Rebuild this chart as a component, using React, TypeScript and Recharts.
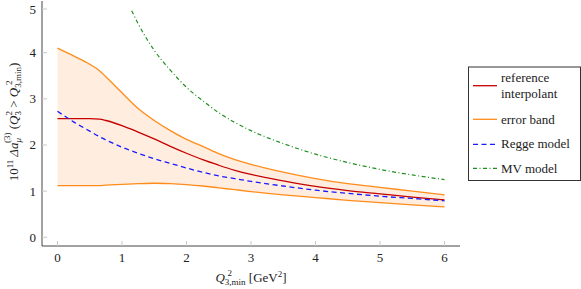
import { ComposedChart, Line, Area, XAxis, YAxis } from 'recharts'

// sample points of Q^2_3,min in GeV^2
const Q_GRID = [0, 0.25, 0.5, 0.65, 0.75, 1, 1.25, 1.5, 1.75, 2, 2.25, 2.5, 2.75, 3, 3.5, 4, 4.5, 5, 5.5, 6]
const BAND_HI = [4.1, 3.93, 3.75, 3.61, 3.48, 3.13, 2.79, 2.53, 2.31, 2.12, 1.97, 1.81, 1.68, 1.58, 1.41, 1.27, 1.16, 1.08, 1.0, 0.92]
const BAND_LO = [1.12, 1.12, 1.12, 1.12, 1.13, 1.145, 1.16, 1.17, 1.16, 1.14, 1.11, 1.07, 1.03, 0.99, 0.92, 0.86, 0.8, 0.75, 0.7, 0.66]
const REF = [2.57, 2.57, 2.57, 2.56, 2.53, 2.42, 2.28, 2.13, 1.97, 1.82, 1.68, 1.56, 1.45, 1.36, 1.22, 1.1, 1.01, 0.94, 0.87, 0.81]
const REGGE = [2.73, 2.5, 2.3, 2.18, 2.11, 1.95, 1.82, 1.7, 1.6, 1.5, 1.41, 1.33, 1.27, 1.21, 1.11, 1.02, 0.95, 0.89, 0.84, 0.79]

const MV_Q = [1.15, 1.25, 1.5, 1.75, 2, 2.25, 2.5, 3, 3.5, 4, 4.5, 5, 5.5, 6]
const MV = [4.91, 4.63, 4.05, 3.62, 3.25, 2.96, 2.7, 2.31, 2.03, 1.8, 1.62, 1.47, 1.35, 1.25]

const X_TICKS = [0, 1, 2, 3, 4, 5, 6]
const Y_TICKS = [0, 1, 2, 3, 4, 5]

const RED = '#c40000'
const ORANGE = '#ff8c1a'
const BAND_FILL = '#ffeedf'
const BLUE = '#1a1aff'
const GREEN = '#1f8f1f'
const FRAME = '#444'
const TICK = '#c8c8c8'
const FONT = 'Liberation Serif'

const bandData = Q_GRID.map((q, i) => ({ q, band: [BAND_LO[i], BAND_HI[i]], hi: BAND_HI[i], lo: BAND_LO[i] }))
const refData = Q_GRID.map((q, i) => ({ q, v: REF[i] }))
const reggeData = Q_GRID.map((q, i) => ({ q, v: REGGE[i] }))
const mvData = MV_Q.map((q, i) => ({ q, v: MV[i] }))

function BottomTick({ x, y, payload }: any) {
  return (
    <g>
      <line x1={x} x2={x} y1={y} y2={y - 5} stroke={TICK} />
      <text x={x} y={y + 16} textAnchor="middle" fontFamily={FONT} fontSize={13} fill="#222">
        {payload.value}
      </text>
    </g>
  )
}

function TopTick({ x, y }: any) {
  return <line x1={x} x2={x} y1={y} y2={y + 5} stroke={TICK} />
}

function LeftTick({ x, y, payload }: any) {
  return (
    <g>
      <line x1={x} x2={x + 5} y1={y} y2={y} stroke={TICK} />
      <text x={x - 6} y={y + 4.5} textAnchor="end" fontFamily={FONT} fontSize={13} fill="#222">
        {payload.value}
      </text>
    </g>
  )
}

function RightTick({ x, y }: any) {
  return <line x1={x} x2={x - 5} y1={y} y2={y} stroke={TICK} />
}

function Labels() {
  return (
    <svg width={581} height={289} style={{ position: 'absolute', left: 0, top: 0, pointerEvents: 'none' }}>
      <g fontFamily={FONT} fill="#222">
        <text transform="translate(18,122) rotate(-90)" textAnchor="middle" fontSize={13}>
          <tspan>10</tspan>
          <tspan fontSize={9} dy={-5}>11</tspan>
          <tspan dy={5} dx={3} fontStyle="italic">Δa</tspan>
          <tspan fontSize={9} dy={3} fontStyle="italic">μ</tspan>
          <tspan fontSize={9} dx={-5} dy={-11}>(3)</tspan>
          <tspan dy={8}> (</tspan>
          <tspan fontStyle="italic">Q</tspan>
          <tspan fontSize={9} dy={3}>3</tspan>
          <tspan fontSize={9} dx={-4.5} dy={-9}>2</tspan>
          <tspan dy={6}> &gt; </tspan>
          <tspan fontStyle="italic">Q</tspan>
          <tspan fontSize={9} dy={3}>3,min</tspan>
          <tspan fontSize={9} dx={-18} dy={-9}>2</tspan>
          <tspan dx={13.5} dy={6}>)</tspan>
        </text>

        <text x={251} y={282} textAnchor="middle" fontSize={13}>
          <tspan fontStyle="italic">Q</tspan>
          <tspan fontSize={9} dy={3}>3,min</tspan>
          <tspan fontSize={9} dx={-18} dy={-9}>2</tspan>
          <tspan dx={13.5} dy={6}> [GeV</tspan>
          <tspan fontSize={9} dy={-5}>2</tspan>
          <tspan dy={5}>]</tspan>
        </text>

        <rect x={468.5} y={67} width={112} height={113.5} fill="#fff" stroke="#333" />
        <line x1={473} x2={497} y1={85.7} y2={85.7} stroke={RED} strokeWidth={1.3} />
        <text x={501} y={81.5} fontSize={13}>reference</text>
        <text x={501} y={97.5} fontSize={13}>interpolant</text>
        <line x1={473} x2={497} y1={119.3} y2={119.3} stroke={ORANGE} strokeWidth={1.3} />
        <text x={501} y={123.5} fontSize={13}>error band</text>
        <line x1={473} x2={497} y1={144.3} y2={144.3} stroke={BLUE} strokeWidth={1.3} strokeDasharray="5 3.5" />
        <text x={501} y={148} fontSize={13}>Regge model</text>
        <line x1={473} x2={497} y1={168.3} y2={168.3} stroke={GREEN} strokeWidth={1.2} strokeDasharray="4 2.5 1 2.5" />
        <text x={501} y={172.5} fontSize={13}>MV model</text>
      </g>
    </svg>
  )
}

export default function App() {
  return (
    <div style={{ position: 'absolute', left: 0, top: 0, width: 581, height: 289, background: '#fff' }}>
      <ComposedChart width={581} height={289} margin={{ top: 1, right: 121, bottom: 0, left: 0 }}>
        <XAxis
          type="number"
          dataKey="q"
          domain={[-0.24, 6.24]}
          ticks={X_TICKS}
          allowDataOverflow
          height={43}
          tickSize={0}
          tickMargin={0}
          tickLine={false}
          axisLine={{ stroke: FRAME }}
          tick={<BottomTick />}
        />
        <XAxis
          xAxisId="top"
          orientation="top"
          type="number"
          dataKey="q"
          domain={[-0.24, 6.24]}
          ticks={X_TICKS}
          allowDataOverflow
          height={0}
          tickSize={0}
          tickMargin={0}
          tickLine={false}
          axisLine={{ stroke: FRAME }}
          tick={<TopTick />}
        />
        <YAxis
          type="number"
          domain={[-0.19, 5.12]}
          ticks={Y_TICKS}
          allowDataOverflow
          width={42}
          tickSize={0}
          tickMargin={0}
          tickLine={false}
          axisLine={{ stroke: FRAME }}
          tick={<LeftTick />}
        />
        <YAxis
          yAxisId="right"
          orientation="right"
          type="number"
          domain={[-0.19, 5.12]}
          ticks={Y_TICKS}
          allowDataOverflow
          width={0}
          tickSize={0}
          tickMargin={0}
          tickLine={false}
          axisLine={{ stroke: '#999' }}
          tick={<RightTick />}
        />
        <Area
          data={bandData}
          dataKey="band"
          type="monotone"
          fill={BAND_FILL}
          fillOpacity={1}
          stroke="none"
          isAnimationActive={false}
        />
        <Line data={bandData} dataKey="hi" type="monotone" stroke={ORANGE} strokeWidth={1.3} dot={false} isAnimationActive={false} />
        <Line data={bandData} dataKey="lo" type="monotone" stroke={ORANGE} strokeWidth={1.3} dot={false} isAnimationActive={false} />
        <Line data={refData} dataKey="v" type="monotone" stroke={RED} strokeWidth={1.3} dot={false} isAnimationActive={false} />
        <Line
          data={reggeData}
          dataKey="v"
          type="monotone"
          stroke={BLUE}
          strokeWidth={1.3}
          strokeDasharray="5 3.5"
          dot={false}
          isAnimationActive={false}
        />
        <Line
          data={mvData}
          dataKey="v"
          type="monotone"
          stroke={GREEN}
          strokeWidth={1.2}
          strokeDasharray="4 2.5 1 2.5"
          dot={false}
          isAnimationActive={false}
        />
      </ComposedChart>
      <Labels />
    </div>
  )
}
